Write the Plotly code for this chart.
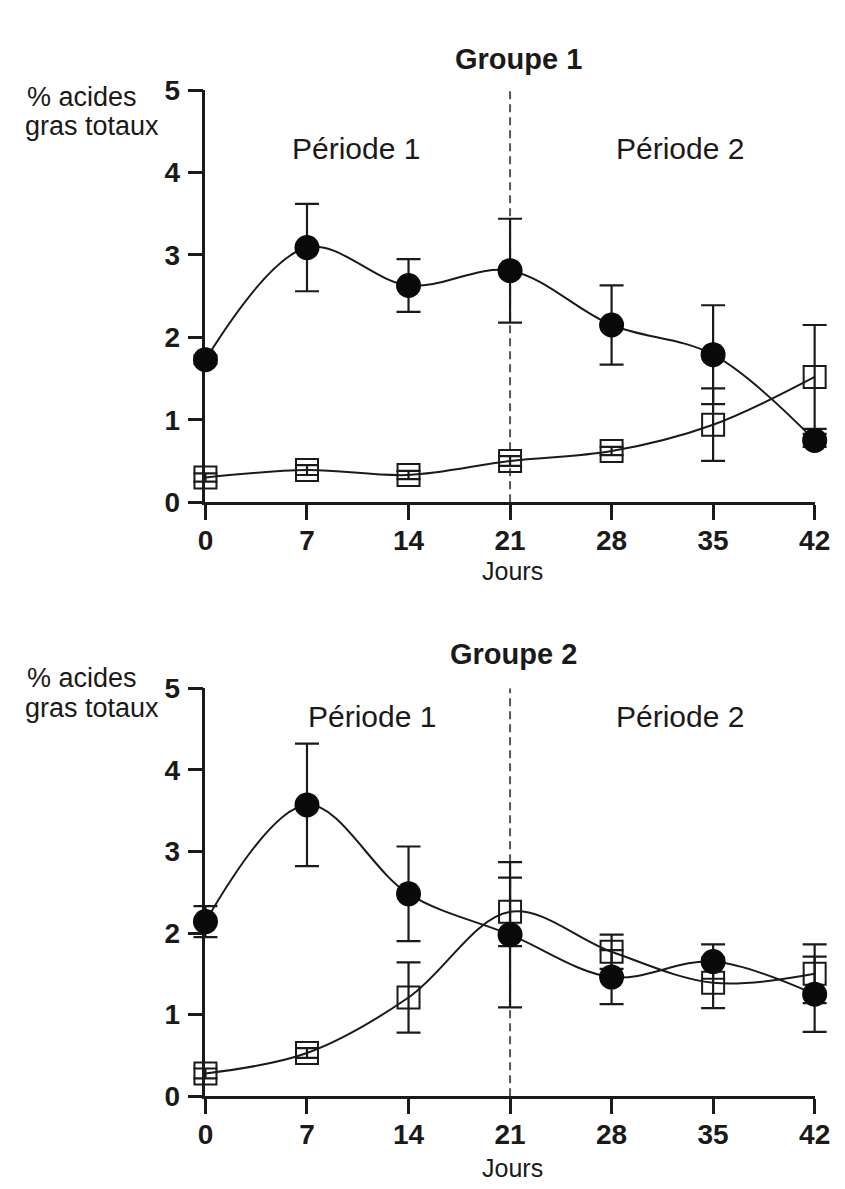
import plotly.graph_objects as go

W, H = 845, 1189

days = [0, 7, 14, 21, 28, 35, 42]
day_ticks = ["0", "7", "14", "21", "28", "35", "42"]
y_ticks = [0, 1, 2, 3, 4, 5]
period_split = 21

# Groupe 1
g1_circle = [1.73, 3.09, 2.63, 2.81, 2.15, 1.79, 0.75]
g1_circle_err = [0.05, 0.53, 0.32, 0.63, 0.48, 0.60, 0.08]
g1_square = [0.30, 0.39, 0.33, 0.50, 0.62, 0.94, 1.52]
g1_square_err = [0.05, 0.06, 0.05, 0.06, 0.05, 0.44, 0.63]

# Groupe 2
g2_circle = [2.14, 3.57, 2.48, 1.98, 1.46, 1.65, 1.25]
g2_circle_err = [0.19, 0.75, 0.58, 0.89, 0.33, 0.21, 0.46]
g2_square = [0.28, 0.53, 1.21, 2.26, 1.77, 1.39, 1.50]
g2_square_err = [0.06, 0.06, 0.43, 0.42, 0.21, 0.31, 0.36]

titles = ["Groupe 1", "Groupe 2"]
periods = ["Période 1", "Période 2"]
ylab_lines = ["% acides", "gras totaux"]
xlab = "Jours"

FONT = "Liberation Sans, Arial, sans-serif"
BLACK = "#1a1a1a"


def px(x):
    return x / W


def py(y):
    return 1 - y / H


fig = go.Figure()

X0, X1 = 195, 822          # pixel positions of day 0 and day 42
PAD = 20                   # extra room so error-bar caps at the edges are not clipped
k = (X1 - X0) / (days[-1] - days[0])
x_dom = [px(X0), px(X1)]
x_dom_data = [px(X0 - PAD), px(X1 + PAD)]
x_rng_data = [days[0] - PAD / k, days[-1] + PAD / k]

panels = [
    dict(xa="x", ya="y", xd="x3", top=69, bottom=492, circ=g1_circle, ce=g1_circle_err,
         sq=g1_square, se=g1_square_err),
    dict(xa="x2", ya="y2", xd="x4", top=683, bottom=1102, circ=g2_circle, ce=g2_circle_err,
         sq=g2_square, se=g2_square_err),
]

for i, p in enumerate(panels):
    fig.add_shape(type="line", xref=p["xa"], yref=p["ya"], x0=period_split, x1=period_split,
                  y0=0, y1=5, line=dict(color="#555555", width=2, dash="8px,5px"), layer="below")
    fig.add_trace(go.Scatter(
        x=days, y=p["sq"], xaxis=p["xd"], yaxis=p["ya"], mode="lines+markers",
        line=dict(color=BLACK, width=2, shape="spline", smoothing=1.0),
        marker=dict(symbol="square-open", size=22, color=BLACK, line=dict(width=2, color=BLACK)),
        error_y=dict(type="data", array=p["se"], color=BLACK, thickness=2.2, width=12),
        cliponaxis=False, showlegend=False))
    fig.add_trace(go.Scatter(
        x=days, y=p["circ"], xaxis=p["xd"], yaxis=p["ya"], mode="lines+markers",
        line=dict(color=BLACK, width=2, shape="spline", smoothing=1.0),
        marker=dict(symbol="circle", size=25, color="#0a0a0a"),
        error_y=dict(type="data", array=p["ce"], color=BLACK, thickness=2.2, width=12),
        cliponaxis=False, showlegend=False))

axis_common = dict(showline=True, linecolor=BLACK, linewidth=2.5, ticks="outside", ticklen=15,
                   tickwidth=2.5, tickcolor=BLACK, showgrid=False, zeroline=False,
                   tickfont=dict(family=FONT, size=28, color=BLACK, weight="bold"))

for i, p in enumerate(panels):
    suf = "" if i == 0 else str(i + 1)
    dsuf = str(i + 3)
    ydom = [py(p["bottom"]), py(p["top"])]
    fig.update_layout(**{
        "xaxis" + suf: dict(domain=x_dom, range=[0, 42], tickvals=days, ticktext=day_ticks,
                            anchor="y" + suf, ticklabelstandoff=-4, **axis_common),
        "yaxis" + suf: dict(domain=ydom, range=[0, 5], tickvals=y_ticks, anchor="x" + suf,
                            ticklabelstandoff=2, **axis_common),
        "xaxis" + dsuf: dict(domain=x_dom_data, range=x_rng_data, anchor="y" + suf,
                             visible=False, showgrid=False, zeroline=False),
    })

ann = []
title_pos = [(517, 37), (512, 648)]
period_pos = [[(350, 129), (683, 129)], [(366, 712), (683, 712)]]
ylab_pos = [[(9, 76), (7, 106)], [(9, 673), (7, 703)]]
xlab_pos = [(511, 563), (511, 1176)]
for i in range(2):
    ann.append(dict(text="<b>" + titles[i] + "</b>", x=px(title_pos[i][0]), y=py(title_pos[i][1]),
                    xanchor="center", font=dict(family=FONT, size=29, color=BLACK)))
    for j in range(2):
        ann.append(dict(text=periods[j], x=px(period_pos[i][j][0]), y=py(period_pos[i][j][1]),
                        xanchor="center", font=dict(family=FONT, size=30, color=BLACK)))
    for kk in range(2):
        ann.append(dict(text=ylab_lines[kk], x=px(ylab_pos[i][kk][0]), y=py(ylab_pos[i][kk][1]),
                        xanchor="left", font=dict(family=FONT, size=27, color=BLACK)))
    ann.append(dict(text=xlab, x=px(xlab_pos[i][0]), y=py(xlab_pos[i][1]),
                    xanchor="center", font=dict(family=FONT, size=25, color=BLACK)))
for a in ann:
    a.update(xref="paper", yref="paper", yanchor="middle", showarrow=False)

fig.update_layout(width=W, height=H, margin=dict(l=0, r=0, t=0, b=0),
                  paper_bgcolor="white", plot_bgcolor="rgba(0,0,0,0)", annotations=ann)

fig.write_html("out.html")
